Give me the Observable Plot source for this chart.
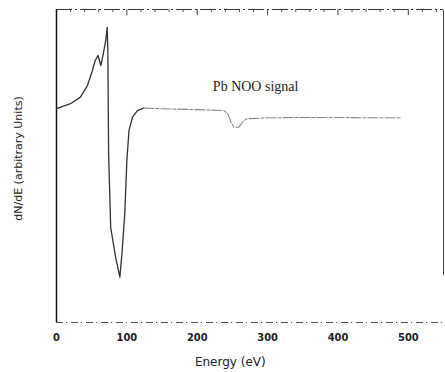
<!DOCTYPE html>
<html><head><meta charset="utf-8">
<script src="https://cdn.jsdelivr.net/npm/d3@7"></script>
<script src="https://cdn.jsdelivr.net/npm/@observablehq/plot@0.6"></script>
<style>body{margin:0;background:#fff}</style>
</head><body><div id="chart"></div>
<script>
// Energy (eV) and dN/dE (arbitrary units, 0–100 across the frame)
const energy = [0,20,34,44,51,55,59,63,66,70,72,73,74,77,84,90,93,97,100,103,108,115,124,150,200,238,244,248,252,259,266,271,300,350,400,450,489];
const signal = [68.3,69.9,72.0,75.7,80.5,83.7,85.3,82.1,85.3,90.1,94.3,86.9,54.5,30.4,20.9,14.5,21.9,34.7,51.8,61.3,65.6,67.7,68.5,68.3,68.0,67.7,66.5,64.0,62.4,62.4,64.5,65.1,65.4,65.5,65.5,65.4,65.4];
const xTicks = [0,100,200,300,400,500];
const topMajorTicks = [100,200,300,400,500];
const topMinorTicks = [20,40,60,80,120,140,160,180,220,240,260,280,320,340,360,380,420,440,460,480,520,540];
const annotation = ["Pb NOO signal"];
const xLabel = "Energy (eV)";
const yLabel = "dN/dE (arbitrary Units)";

const data = energy.map((e, i) => ({energy: e, signal: signal[i]}));
const steep = data.filter(d => d.energy <= 124);
const flat = data.filter(d => d.energy >= 124);

const chart = Plot.plot({
  width: 445, height: 372,
  marginLeft: 56, marginRight: 2, marginTop: 9, marginBottom: 50,
  x: {domain: [0, 550]},
  y: {domain: [0, 100]},
  style: {background: "#fff", color: "#222"},
  marks: [
    Plot.axisX({ticks: xTicks, tickSize: 0, tickPadding: 11, label: null,
      fontFamily: "'DejaVu Sans Condensed', 'DejaVu Sans', sans-serif", fontWeight: "bold", fontSize: 11, fill: "#222"}),
    Plot.axisY({ticks: [], label: null}),
    Plot.ruleY([100], {stroke: "#333", strokeWidth: 1.2, strokeDasharray: "16,3,2,3"}),
    Plot.ruleY([0], {stroke: "#555", strokeWidth: 1, strokeDasharray: "7,3,1,4"}),
    Plot.ruleX([0], {stroke: "#111", strokeWidth: 1.5}),
    Plot.ruleX([550], {y1: 15, y2: 99.7, stroke: "#444", strokeWidth: 1}),
    Plot.ruleX(topMajorTicks, {x: d => d, y1: 100, y2: 98, stroke: "#444", strokeWidth: 1}),
    Plot.ruleX(topMinorTicks, {x: d => d, y1: 100, y2: 99, stroke: "#555", strokeWidth: 1}),
    Plot.line(steep, {x: "energy", y: "signal", stroke: "#333", strokeWidth: 1.3}),
    Plot.line(flat, {x: "energy", y: "signal", stroke: "#888", strokeWidth: 1.1, strokeDasharray: "10,2,3,2"}),
    Plot.text(annotation, {x: 283, y: 75.5, text: d => d, fontFamily: "'Liberation Serif', serif", fontSize: 14, fill: "#222"}),
    Plot.text([xLabel], {x: 247, y: 0, dy: 40, text: d => d, fontFamily: "'DejaVu Sans', sans-serif", fontSize: 12, fill: "#222"}),
    Plot.text([yLabel], {x: 0, y: 52.4, dx: -38, rotate: -90, text: d => d, fontFamily: "'DejaVu Sans', sans-serif", fontSize: 11, fill: "#222"})
  ]
});
document.getElementById("chart").append(chart);
</script>
</body></html>
